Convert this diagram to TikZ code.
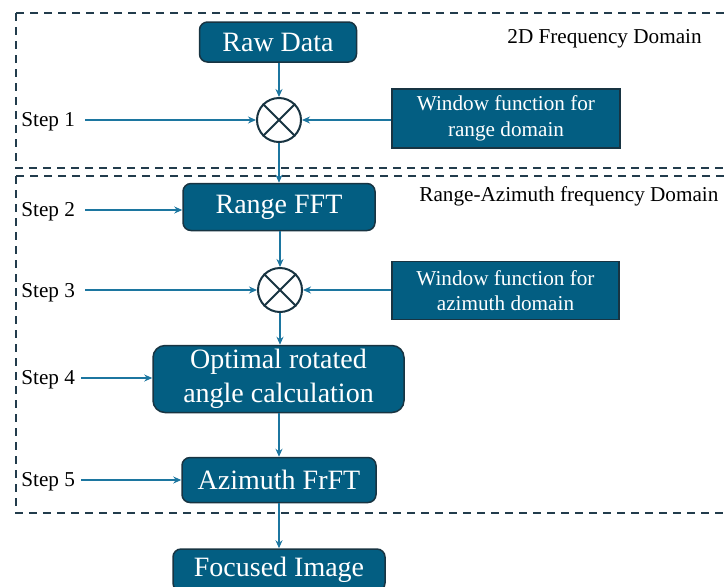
\documentclass[tikz,border=0pt]{standalone}
\usepackage{fontspec}
\setmainfont{Liberation Serif}
\usetikzlibrary{arrows.meta}
\definecolor{boxblue}{RGB}{3,94,130}
\definecolor{boxline}{RGB}{24,52,66}
\definecolor{flowblue}{RGB}{28,118,160}
\definecolor{frameline}{RGB}{34,60,76}
\tikzset{
	stepbox/.style={draw=boxline,fill=boxblue,text=white,line width=0.75pt,rounded corners=4pt,align=center,inner sep=0,font=\fontsize{14}{16.8}\selectfont},
	winbox/.style={draw=boxline,fill=boxblue,text=white,line width=0.75pt,align=center,inner sep=0,font=\fontsize{10.6}{12.7}\selectfont},
	mixer/.style={circle,draw=boxline,fill=white,line width=1pt,minimum size=22pt,inner sep=0},
	steplabel/.style={anchor=west,inner sep=0,font=\fontsize{10.6}{12.5}\selectfont},
	flow/.style={draw=flowblue,line width=0.9pt,-{Stealth[length=4pt,width=3.5pt]}},
	frame/.style={draw=frameline,line width=0.9pt,dash pattern=on 4pt off 3pt}
}
\begin{document}
\begin{tikzpicture}[x=0.5pt,y=-0.5pt]
	\clip (0,0) rectangle (724,586);
	% domains
	\draw[frame] (16,13) rectangle (740,168);
	\draw[frame] (16,176) rectangle (740,513);
	\node[steplabel] (dom1) at (507,39) {2D Frequency Domain};
	\node[steplabel] (dom2) at (419,196) {Range-Azimuth frequency Domain};
	% blocks
	\node[stepbox,minimum width=78.5pt,minimum height=20pt] (raw) at (278,42) {Raw Data};
	\node[mixer] (mix1) at (279,120) {};
	\node[winbox,minimum width=114pt,minimum height=29.5pt] (win1) at (506,118.5) {Window function for\\range domain};
	\node[stepbox,minimum width=96pt,minimum height=23.5pt] (fft) at (279,207) {Range FFT};
	\node[mixer] (mix2) at (280,290) {};
	\node[winbox,minimum width=113.5pt,minimum height=29pt] (win2) at (505.5,290.5) {Window function for\\azimuth domain};
	\node[stepbox,minimum width=125.5pt,minimum height=33.5pt,rounded corners=6pt] (angle) at (278.5,379) {Optimal rotated\\angle calculation};
	\node[stepbox,minimum width=97pt,minimum height=22.5pt] (frft) at (279,480) {Azimuth FrFT};
	\node[stepbox,minimum width=106pt,minimum height=21pt] (img) at (279,570) {Focused Image};
	% mixer crosses
	\foreach \m in {mix1,mix2} {
		\draw[boxline,line width=1pt] (\m.45) -- (\m.225);
		\draw[boxline,line width=1pt] (\m.135) -- (\m.315);
	}
	% steps
	\node[steplabel] (s1) at (21,122) {Step 1};
	\node[steplabel] (s2) at (21,212) {Step 2};
	\node[steplabel] (s3) at (21,293) {Step 3};
	\node[steplabel] (s4) at (21,380) {Step 4};
	\node[steplabel] (s5) at (21,482) {Step 5};
	\coordinate (a1) at (85,120);
	\coordinate (a2) at (85,210);
	\coordinate (a3) at (85,290);
	\coordinate (a4) at (81,378);
	\coordinate (a5) at (81,480);
	\draw[flow] (a1) -- (mix1.west);
	\draw[flow] (a2) -- (a2 -| fft.west);
	\draw[flow] (a3) -- (mix2.west);
	\draw[flow] (a4) -- (a4 -| angle.west);
	\draw[flow] (a5) -- (a5 -| frft.west);
	% windows
	\draw[flow] (win1.west |- mix1) -- (mix1.east);
	\draw[flow] (win2.west |- mix2) -- (mix2.east);
	% main chain
	\draw[flow] (raw.south -| mix1) -- (mix1.north);
	\draw[flow] (mix1.south) -- (mix1 |- fft.north);
	\draw[flow] (fft.south -| mix2) -- (mix2.north);
	\draw[flow] (mix2.south) -- (mix2 |- angle.north);
	\draw[flow] (angle.south -| frft) -- (frft.north);
	\draw[flow] (frft.south) -- (img.north);
\end{tikzpicture}
\end{document}
